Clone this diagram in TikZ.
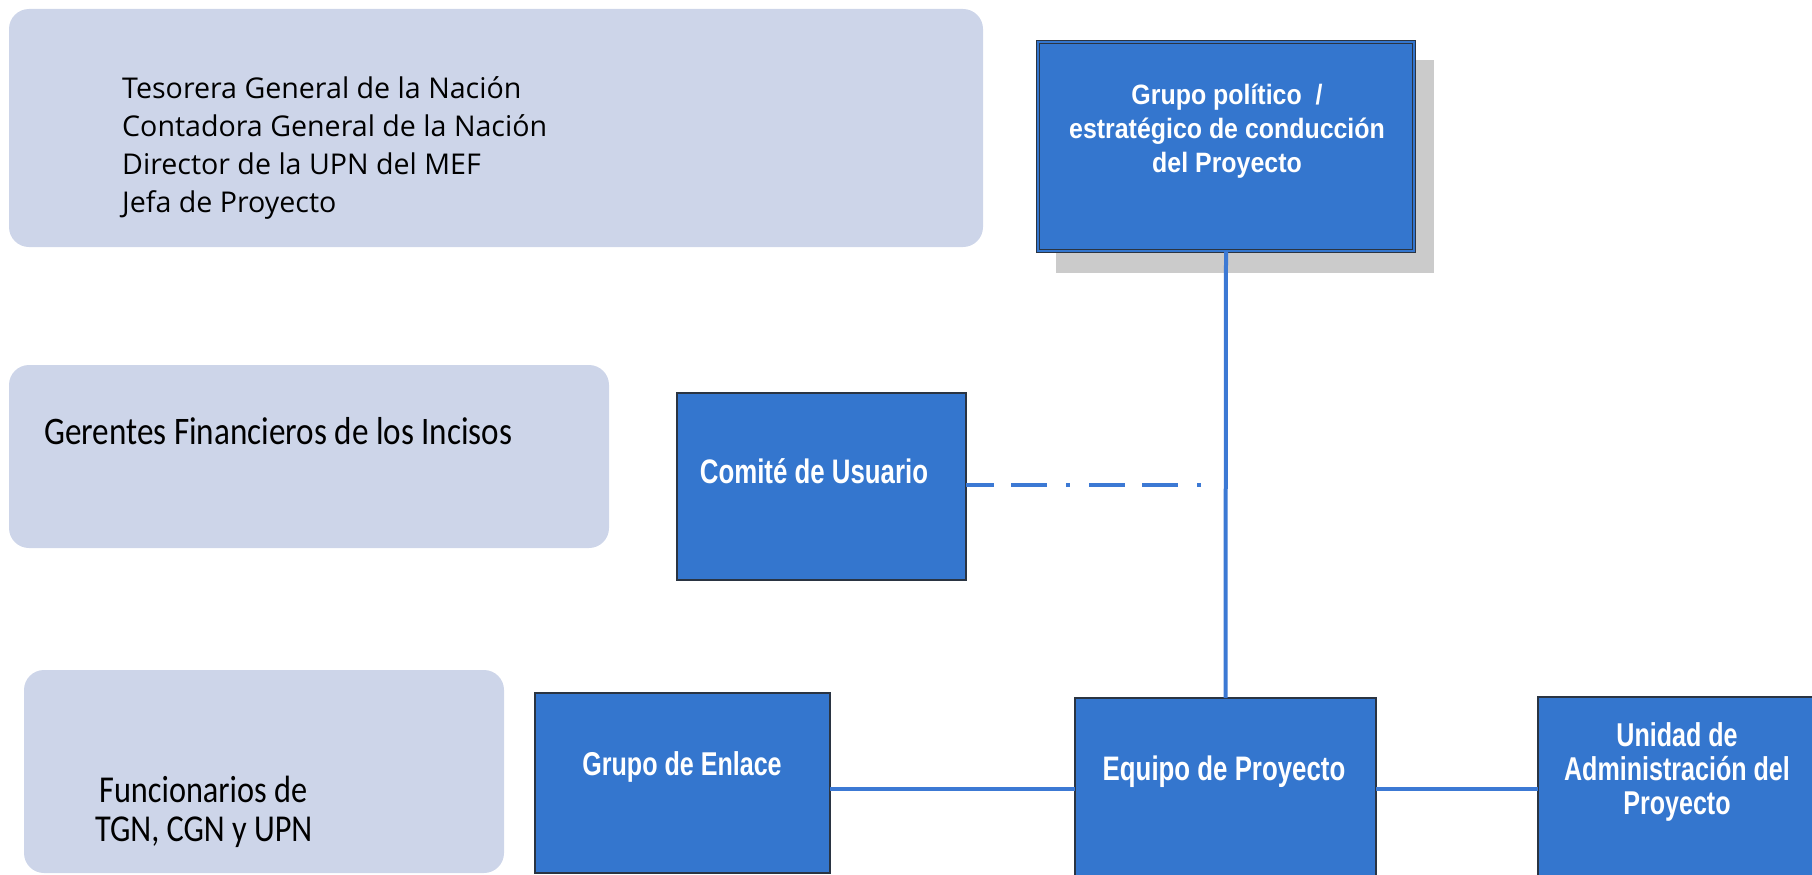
\documentclass[tikz,border=0pt]{standalone}
\usepackage{fontspec}
\setmainfont{Liberation Sans}
\newfontfamily\boxfont{Liberation Sans}[FakeStretch=0.76]
\newfontfamily\gpfont{Liberation Sans}[FakeStretch=0.89]
\newfontfamily\leftfont{Open Sans}
\newfontfamily\condfont{Carlito}[FakeStretch=0.85]
\definecolor{boxblue}{HTML}{3476CE}
\definecolor{edgedark}{HTML}{2A3442}
\definecolor{paleblue}{HTML}{CDD5E9}
\definecolor{linkblue}{HTML}{3C79D4}
\definecolor{shadowgray}{HTML}{CBCBCB}
\tikzset{
  pale/.style={fill=paleblue, rounded corners=20pt, draw=none},
  bluebox/.style={rectangle, fill=boxblue, draw=edgedark, line width=1.5pt, outer sep=0pt, inner sep=0pt},
  boxtxt/.style={text=white, font=\boxfont\bfseries\fontsize{34}{34}\selectfont, align=center, inner sep=0pt},
  lefttxt/.style={text=black, align=left, anchor=west, inner sep=0pt},
  conn/.style={draw=linkblue, line width=4pt},
}
\begin{document}
\begin{tikzpicture}[x=1pt,y=-1pt]
\useasboundingbox (0,0) rectangle (1812,875);
% pale boxes
\fill[pale] (9,9) rectangle (983,247);
\fill[pale] (9,365) rectangle (609,548);
\fill[pale] (24,670) rectangle (504,873);
\node[lefttxt, font=\leftfont\fontsize{28.6}{37.8}\selectfont] (ta) at (122,148)
  {Tesorera General de la Nación\\Contadora General de la Nación\\Director de la UPN del MEF\\Jefa de Proyecto};
\node[lefttxt, font=\condfont\fontsize{39}{39}\selectfont] (tb) at (44,431)
  {Gerentes Financieros de los Incisos};
\node[lefttxt, font=\condfont\fontsize{38}{39}\selectfont] (tc) at (95,811.5)
  {\hspace*{4pt}Funcionarios de\\TGN, CGN y UPN\hspace*{6pt}};
% top box with shadow
\fill[shadowgray] (1056,60) rectangle (1434,273);
\node[bluebox, minimum width=376pt, minimum height=209pt, draw=edgedark, line width=1.2pt, double=boxblue, double distance=1.6pt] (gp) at (1226,146.5) {};
\node[boxtxt, font=\gpfont\bfseries\fontsize{28}{34}\selectfont] (gpt) at (1227,131)
  {Grupo político \ /\\estratégico de conducción\\del Proyecto};
% comite
\node[bluebox, minimum width=289pt, minimum height=187pt] (cu) at (821.5,486.5) {};
\node[boxtxt] (cut) at (814,471) {Comité de Usuario};
% bottom row
\node[bluebox, minimum width=295pt, minimum height=180pt] (en) at (682.5,783) {};
\node[boxtxt, font=\boxfont\bfseries\fontsize{33}{34}\selectfont] (ent) at (682,767) {Grupo de Enlace};
\node[bluebox, minimum width=301pt, minimum height=200pt] (eq) at (1225.5,798) {};
\node[boxtxt] (eqt) at (1224,772) {Equipo de Proyecto};
\node[bluebox, minimum width=290pt, minimum height=200pt] (ua) at (1683,797) {};
\node[boxtxt, font=\boxfont\bfseries\fontsize{33}{34}\selectfont] (uat) at (1677,771.5) {Unidad de\\Administración del\\Proyecto};
% connectors
\coordinate (hy) at (0,789);
\coordinate (dy) at (0,485);
\coordinate (dend) at (1210,485);
\draw[conn] (gp.south) -- (eq.north);
\draw[conn] (en.east |- hy) -- (eq.west |- hy);
\draw[conn] (eq.east |- hy) -- (ua.west |- hy);
\draw[conn, dash pattern=on 36pt off 17pt on 36pt off 19pt on 4pt off 19pt, dash phase=8pt] (cu.east |- dy) -- (dend);
\end{tikzpicture}
\end{document}
